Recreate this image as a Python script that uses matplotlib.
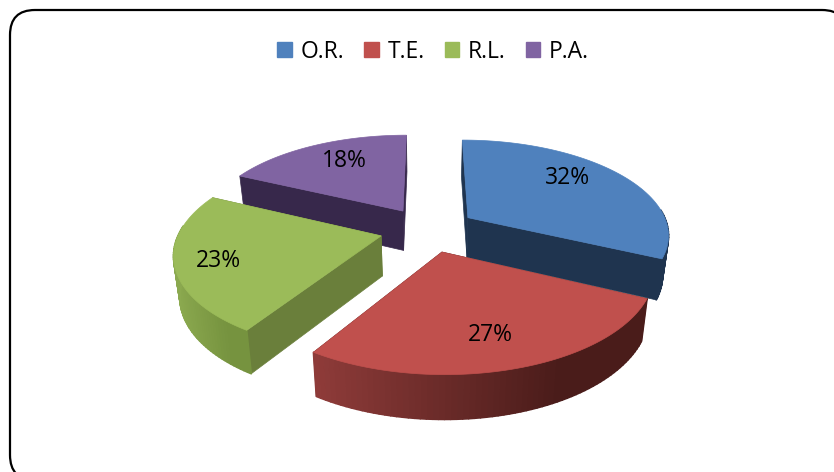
import numpy as np
import matplotlib
matplotlib.use('Agg')
import matplotlib.pyplot as plt
from matplotlib.patches import FancyBboxPatch, Patch, Polygon
from matplotlib.collections import PolyCollection
from matplotlib.colors import to_rgb

plt.rcParams['font.family'] = ['Open Sans', 'DejaVu Sans']

labels = ['O.R.', 'T.E.', 'R.L.', 'P.A.']
values = [32, 27, 23, 18]

top_colors = ['#4F81BD', '#C0504D', '#9BBB59', '#8064A2']
face_colors = ['#1F344F', '#4A1C1A', '#6A7F3B', '#37284B']
rim_left = ['#1F344F', '#8E3B39', '#8BA94F', '#37284B']
rim_right = ['#1F344F', '#4A1C1A', '#76933F', '#37284B']
label_xy = [(568, 178), (490, 335), (218, 261), (344, 161)]
draw_order = [3, 0, 2, 1]

cx, cy = 428, 229.5
sx, sy = 201, 94     # disc size on screen
persp = 0.165
explode = 0.24
drop = 40


def proj(X, Y, z):
    d = 1 + persp * Y
    # lower edge pulls in a little toward the middle, like the camera in the original
    return np.column_stack([cx + sx * X / d * (1 - 0.025 * z), cy - sy * Y / d + drop * z / np.sqrt(d)])


fig = plt.figure(figsize=(8.34, 4.72), dpi=100)
ax = fig.add_axes([0, 0, 1, 1])
ax.set_xlim(0, 834)
ax.set_ylim(472, 0)
ax.axis('off')

# rounded frame, runs off the right and bottom of the picture
ax.add_patch(FancyBboxPatch((35, 35), 787, 420, boxstyle='round,pad=25,rounding_size=25',
                            fc='white', ec='black', lw=1.6, zorder=0))

total = sum(values)
edges = 90 - 360 * np.cumsum([0] + values) / total

for i in draw_order:
    a0, a1 = np.radians(edges[i]), np.radians(edges[i + 1])
    mid = (a0 + a1) / 2
    ox, oy = explode * np.cos(mid), explode * np.sin(mid)
    t = np.linspace(a0, a1, 70)
    X = ox + np.cos(t)
    Y = oy + np.sin(t)
    up = proj(X, Y, 0)
    low = proj(X, Y, 1)
    apex_up = proj(np.array([ox]), np.array([oy]), 0)
    apex_low = proj(np.array([ox]), np.array([oy]), 1)

    # cut faces
    for k in (0, -1):
        ax.add_patch(Polygon([apex_up[0], up[k], low[k], apex_low[0]], closed=True,
                             fc=face_colors[i], ec=face_colors[i], lw=0.5, zorder=2))

    # outer wall, shaded left to right, only the part that faces us
    quads = [[up[k], up[k + 1], low[k + 1], low[k]] for k in range(len(t) - 1) if np.sin(t[k]) < 0.1]
    if quads:
        xm = up[:-1, 0]
        f = np.clip(1.35 * (xm - xm.min()) / max(xm.max() - xm.min(), 1), 0, 1)
        f = f[np.sin(t[:-1]) < 0.1]
        c0, c1 = np.array(to_rgb(rim_left[i])), np.array(to_rgb(rim_right[i]))
        cols = [c0 + (c1 - c0) * v for v in f]
        ax.add_collection(PolyCollection(quads, facecolors=cols, edgecolors=cols, linewidths=1.2, zorder=2))

    # top
    ax.add_patch(Polygon(np.vstack([apex_up, up]), closed=True, fc=top_colors[i],
                         ec=top_colors[i], lw=0.5, zorder=2))

for i in range(len(values)):
    ax.text(label_xy[i][0], label_xy[i][1], '%d%%' % values[i], fontsize=16.5, color='black',
            ha='center', va='center', zorder=3)

handles = [Patch(fc=c, ec=c) for c in top_colors]
ax.legend(handles, labels, loc='center', bbox_to_anchor=(433 / 834, 1 - 52 / 472), ncol=4,
          frameon=False, fontsize=16.5, handlelength=0.63, handleheight=0.63,
          handletextpad=0.38, columnspacing=0.88, borderpad=0)

fig.savefig('out.png', dpi=100)
